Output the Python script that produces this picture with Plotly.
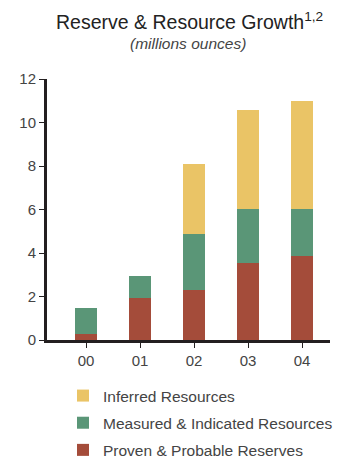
import plotly.graph_objects as go

years = ["00", "01", "02", "03", "04"]
proven = [0.28, 1.92, 2.30, 3.55, 3.86]
measured = [1.17, 1.03, 2.56, 2.47, 2.16]
inferred = [0.0, 0.0, 3.23, 4.55, 4.97]
series_names = ["Proven & Probable Reserves", "Measured & Indicated Resources", "Inferred Resources"]
colors = ["#A44C3A", "#5A9677", "#EAC466"]
y_ticks = [0, 2, 4, 6, 8, 10, 12]

fig = go.Figure()
for i, (name, vals, col) in enumerate(zip(series_names, [proven, measured, inferred], colors)):
    fig.add_trace(go.Bar(
        x=list(range(len(years))), y=vals, name=name, marker_color=col,
        marker_line_width=0, width=0.41, legendgroup=f"g{i}", legendrank=10 - i,
    ))

PX = 283.0  # plot width px
PY = 261.0  # plot height px

def px_to_paper_x(px):
    return (px - 47) / PX

def px_to_paper_y(py):
    return (340 - py) / PY

fig.update_layout(
    width=341, height=456, barmode="stack",
    margin=dict(l=47, r=11, t=79, b=116, autoexpand=False),
    paper_bgcolor="white", plot_bgcolor="white",
    font=dict(family="Liberation Sans, Arial, sans-serif", color="#444444", size=14),
    showlegend=True,
    legend=dict(
        x=63 / 341, xref="container", xanchor="left",
        y=1 - 379 / 456, yref="container", yanchor="top",
        traceorder="grouped", tracegroupgap=4,
        font=dict(size=15.5, color="#444444"), bgcolor="rgba(0,0,0,0)",
    ),
    annotations=[
        dict(text="Reserve & Resource Growth<sup>1,2</sup>", x=px_to_paper_x(189), y=px_to_paper_y(21),
             xref="paper", yref="paper", showarrow=False, xanchor="center", yanchor="middle",
             font=dict(size=19.5, color="#222222")),
        dict(text="<i>(millions ounces)</i>", x=px_to_paper_x(188), y=px_to_paper_y(44),
             xref="paper", yref="paper", showarrow=False, xanchor="center", yanchor="middle",
             font=dict(size=15.5, color="#444444")),
    ],
)
fig.update_xaxes(
    range=[-(86 - 47) / 54, (330 - 47) / 54 - (86 - 47) / 54],
    tickmode="array", tickvals=list(range(len(years))), ticktext=years,
    showline=True, linecolor="#231F20", linewidth=3,
    ticks="outside", ticklen=5, tickwidth=1, tickcolor="#231F20",
    showgrid=False, zeroline=False, tickfont=dict(size=15, color="#444444"),
)
fig.update_yaxes(
    range=[0, 12], tickmode="array", tickvals=y_ticks,
    showline=True, linecolor="#231F20", linewidth=3,
    ticks="outside", ticklen=5, tickwidth=1, tickcolor="#231F20",
    showgrid=False, zeroline=False, tickfont=dict(size=15, color="#444444"),
)
fig.write_html("out.html")
